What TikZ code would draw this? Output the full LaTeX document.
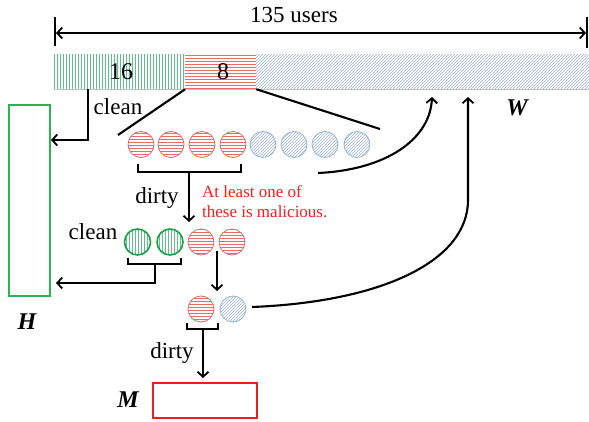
\documentclass[tikz,border=0pt]{standalone}
\usepackage{fontspec}
\setmainfont{Liberation Serif}
\usetikzlibrary{patterns,arrows.meta,calc}
\definecolor{gpat}{RGB}{95,190,140}
\definecolor{rpat}{RGB}{235,105,105}
\definecolor{bpat}{RGB}{155,180,215}
\definecolor{rline}{RGB}{215,105,105}
\definecolor{bline}{RGB}{150,178,212}
\definecolor{gline}{RGB}{30,160,70}
\definecolor{hbox}{RGB}{40,180,80}
\definecolor{mbox}{RGB}{235,30,30}
\definecolor{redtxt}{RGB}{240,30,30}
\begin{document}
\begin{tikzpicture}[x=1pt,y=-1pt,
  conn/.style={line width=2.1pt,-{Straight Barb[length=5pt,width=11pt,line width=1.8pt]}},
  plain/.style={line width=2.1pt},
  dimline/.style={line width=2.1pt,{Straight Barb[length=5pt,width=11pt,line width=1.8pt]}-{Straight Barb[length=5pt,width=11pt,line width=1.8pt]}},
  tick/.style={line width=2.6pt},
  rc/.style={circle,minimum size=26pt,inner sep=0pt,draw=rline,line width=0.8pt,pattern=horizontal lines,pattern color=rpat},
  bc/.style={circle,minimum size=26pt,inner sep=0pt,draw=bline,line width=0.8pt,pattern=north east lines,pattern color=bpat},
  gc/.style={circle,minimum size=26pt,inner sep=0pt,draw=gline,line width=1.6pt,pattern=vertical lines,pattern color=gpat},
  lbl/.style={font=\fontsize{23}{27}\selectfont,inner sep=0pt},
  setlbl/.style={font=\fontsize{24}{28}\selectfont\bfseries\itshape,inner sep=0pt},
  note/.style={font=\fontsize{17}{20}\selectfont,text=redtxt,align=left,inner sep=0pt,anchor=north west},
  barpart/.style={rectangle,inner sep=0pt,minimum height=34pt,font=\fontsize{24}{28}\selectfont}
]
\useasboundingbox (0,0) rectangle (589,422);

% top dimension
\coordinate (tl1) at (55,17); \coordinate (tl2) at (55,46);
\coordinate (tr1) at (587,17); \coordinate (tr2) at (587,48);
\draw[tick] (tl1) -- (tl2);
\draw[tick] (tr1) -- (tr2);
\coordinate (dl) at (56,33); \coordinate (dr) at (586,33);
\draw[dimline] (dl) -- (dr);
\node[lbl] (users) at (294,15) {135 users};

% bar
\node[barpart,minimum width=131pt,pattern=vertical lines,pattern color=gpat] (gbar) at (119.5,72) {};
\node[barpart,minimum width=71pt,pattern=horizontal lines,pattern color=rpat] (rbar) at (220.5,72) {};
\node[barpart,minimum width=333pt,pattern=north east lines,pattern color=bpat] (bbar) at (422.5,72) {};
\node[barpart] (n16) at (121,72) {16};
\node[barpart] (n8) at (223,72) {8};
\draw[gray!50,line width=1pt] (gbar.south west) -- (bbar.south east);

% H, W, M sets
\node[draw=hbox,line width=1.5pt,minimum width=41pt,minimum height=191pt,inner sep=0pt] (H) at (29.5,200.5) {};
\node[setlbl] (Hl) at (27,322) {H};
\node[setlbl] (Wl) at (517,108) {W};
\node[draw=mbox,line width=1.5pt,minimum width=104pt,minimum height=35pt,inner sep=0pt] (M) at (205,400.5) {};
\node[setlbl] (Ml) at (128,400) {M};

% first clean arrow
\coordinate (c1a) at (88,89); \coordinate (c1b) at (51,140);
\draw[conn] (c1a) |- (c1b);
\node[lbl] (clean1) at (118,107) {clean};

% spread lines
\coordinate (s1) at (118,135); \coordinate (s2) at (380,129);
\draw[plain] (gbar.south east) -- (s1);
\draw[plain] (rbar.south east) -- (s2);

% first row
\node[rc] (a1) at (141,144.5) {};
\node[rc] (a2) at (171,144.5) {};
\node[rc] (a3) at (202,144.5) {};
\node[rc] (a4) at (233,144.5) {};
\node[bc] (a5) at (263,144.5) {};
\node[bc] (a6) at (294,144.5) {};
\node[bc] (a7) at (325,144.5) {};
\node[bc] (a8) at (357,144.5) {};

% bracket 1
\coordinate (b1l) at (138,164); \coordinate (b1r) at (241,164);
\draw[plain] (b1l) -- ++(0,8) -- ($(b1r)+(0,8)$) -- (b1r);
\coordinate (b1c) at (189,172); \coordinate (b1e) at (189,222);
\draw[conn] (b1c) -- (b1e);
\node[lbl] (dirty1) at (157,198) {dirty};
\node[note] (mal) at (202,185) {At least one of\\these is malicious.};

% curve 1
\coordinate (k1s) at (318,173); \coordinate (k1e) at (432,97);
\draw[conn] (k1s) .. controls (385,170) and (430,140) .. (k1e);

% middle row
\node[gc] (m1) at (137.5,242) {};
\node[gc] (m2) at (170,242) {};
\node[rc] (m3) at (201,242) {};
\node[rc] (m4) at (232,242) {};
\node[lbl] (clean2) at (93,232) {clean};
\coordinate (b2l) at (128,258); \coordinate (b2r) at (181,258);
\draw[plain] (b2l) -- ++(0,6) -- ($(b2r)+(0,6)$) -- (b2r);
\coordinate (b2c) at (155,264); \coordinate (b2e) at (56,283);
\draw[conn] (b2c) |- (b2e);
\coordinate (d2s) at (217,251); \coordinate (d2e) at (217,291);
\draw[conn] (d2s) -- (d2e);

% bottom row
\node[rc] (l1) at (201,309) {};
\node[bc] (l2) at (233,309) {};
\coordinate (b3l) at (187,323); \coordinate (b3r) at (218,323);
\draw[plain] (b3l) -- ++(0,6) -- ($(b3r)+(0,6)$) -- (b3r);
\coordinate (b3c) at (203,329); \coordinate (b3e) at (203,378);
\draw[conn] (b3c) -- (b3e);
\node[lbl] (dirty2) at (172,353) {dirty};

% curve 2
\coordinate (k2s) at (252,307); \coordinate (k2m) at (468,200); \coordinate (k2e) at (468,97);
\draw[conn] (k2s) .. controls (380,302) and (468,262) .. (k2m) -- (k2e);
\end{tikzpicture}
\end{document}
